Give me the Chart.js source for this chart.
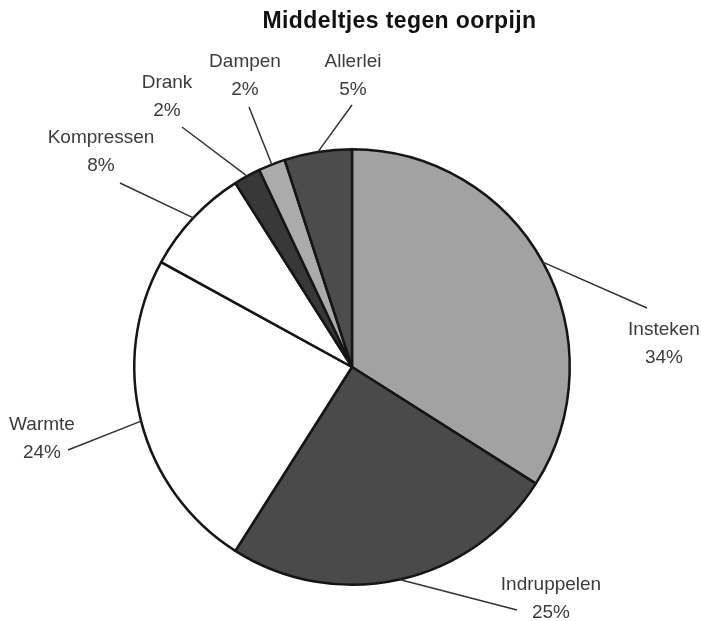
<!DOCTYPE html>
<html>
<head>
<meta charset="utf-8">
<script src="https://cdn.jsdelivr.net/npm/chart.js@4.4.1/dist/chart.umd.min.js"></script>
<style>
    html, body { margin: 0; padding: 0; background: #ffffff; }
    #wrap { width: 701px; height: 621px; }
</style>
</head>
<body>
<div id="wrap"><canvas id="pieChart" width="701" height="621"></canvas></div>
<script>
const title = 'Middeltjes tegen oorpijn';
const categories = ['Insteken', 'Indruppelen', 'Warmte', 'Kompressen', 'Drank', 'Dampen', 'Allerlei'];
const shares = [34, 25, 24, 8, 2, 2, 5];
const sliceColors = ['#a2a2a2', '#4a4a4a', '#ffffff', '#ffffff', '#383838', '#ababab', '#4c4c4c'];

// leader line end + text centre, offsets from the pie centre (px)
const labelLayout = [
    [295, -59, 312, -37],
    [165, 243, 199, 218],
    [-284, 83, -310, 58],
    [-232, -184, -251, -229],
    [-170, -240, -185, -284],
    [-103, -260, -107, -305],
    [0, -262, 1, -305]
];

const labelFont = '19px "Liberation Sans", Arial, sans-serif';

// draws the title and the labels with their leader lines
const calloutPlugin = {
    id: 'callouts',
    afterDatasetsDraw(chart) {
        const ctx = chart.ctx;
        const arcs = chart.getDatasetMeta(0).data;
        ctx.save();

        ctx.fillStyle = '#111111';
        ctx.font = 'bold 23px "Liberation Sans", Arial, sans-serif';
        ctx.letterSpacing = '0.4px';
        ctx.textAlign = 'center';
        ctx.textBaseline = 'middle';
        ctx.fillText(title, chart.width / 2 + 49, 22);
        ctx.letterSpacing = '0px';

        arcs.forEach((arc, i) => {
            const p = arc.getProps(['x', 'y', 'startAngle', 'endAngle', 'outerRadius'], true);
            const mid = (p.startAngle + p.endAngle) / 2;
            const sx = p.x + Math.cos(mid) * p.outerRadius;
            const sy = p.y + Math.sin(mid) * p.outerRadius;
            const [ex, ey, tx, ty] = labelLayout[i];

            ctx.strokeStyle = '#333333';
            ctx.lineWidth = 1.5;
            ctx.beginPath();
            ctx.moveTo(sx, sy);
            ctx.lineTo(p.x + ex, p.y + ey);
            ctx.stroke();

            ctx.fillStyle = '#3c3c3c';
            ctx.font = labelFont;
            ctx.fillText(categories[i], p.x + tx, p.y + ty);
            ctx.fillText(shares[i] + '%', p.x + tx, p.y + ty + 28);
        });
        ctx.restore();
    }
};

const ctx = document.getElementById('pieChart').getContext('2d');
new Chart(ctx, {
    type: 'pie',
    data: {
        labels: categories,
        datasets: [{
            data: shares,
            backgroundColor: sliceColors,
            borderColor: '#151515',
            borderWidth: 2.5
        }]
    },
    options: {
        responsive: false,
        animation: false,
        layout: {
            padding: { left: 133, right: 130, top: 148, bottom: 35 }
        },
        plugins: {
            legend: { display: false },
            tooltip: { enabled: false },
            title: { display: false }
        }
    },
    plugins: [calloutPlugin]
});
</script>
</body>
</html>
